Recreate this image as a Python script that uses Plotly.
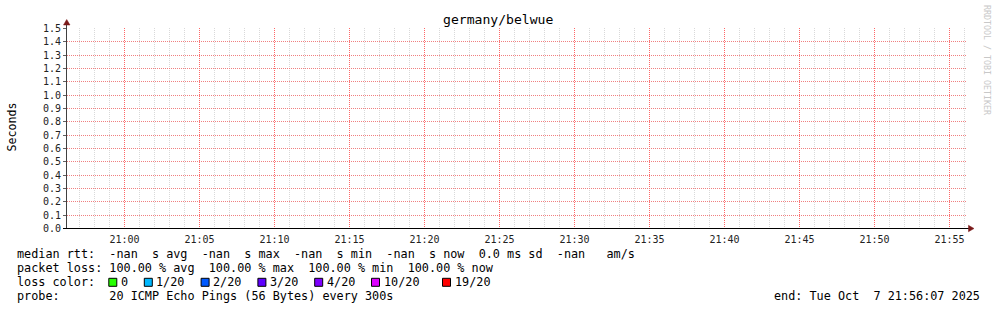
import plotly.graph_objects as go
import pandas as pd

# ---------------- data ----------------
title = "germany/belwue"
y_label = "Seconds"
time_start = "2025-10-07 20:56:10"
time_end = "2025-10-07 21:56:10"
sample_times = ["2025-10-07 21:00:00", "2025-10-07 21:05:00", "2025-10-07 21:10:00",
                "2025-10-07 21:15:00", "2025-10-07 21:20:00", "2025-10-07 21:25:00",
                "2025-10-07 21:30:00", "2025-10-07 21:35:00", "2025-10-07 21:40:00",
                "2025-10-07 21:45:00", "2025-10-07 21:50:00", "2025-10-07 21:55:00"]
median_rtt = [None] * 12  # all -nan
y_range = [-0.00375, 1.50375]   # 0 .. 1.5 with half-pixel padding
y_step = 0.1

median_line = "median rtt:  -nan  s avg  -nan  s max  -nan  s min  -nan  s now  0.0 ms sd  -nan   am/s"
loss_line = "packet loss: 100.00 % avg  100.00 % max  100.00 % min  100.00 % now"
loss_color_title = "loss color:"
loss_labels = ["0", "1/20", "2/20", "3/20", "4/20", "10/20", "19/20"]
loss_colors = ["#26ff00", "#00b8ff", "#0059ff", "#5e00ff", "#7e00ff", "#dd00ff", "#ff0000"]
probe_line = "probe:       20 ICMP Echo Pings (56 Bytes) every 300s"
end_line = "end: Tue Oct  7 21:56:07 2025"
watermark = "RRDTOOL / TOBI OETIKER"

# ---------------- layout helpers ----------------
W, H = 997, 310
L, R, T, B = 67, 30, 28, 81
PW, PH = W - L - R, H - T - B
MONO = "DejaVu Sans Mono"
CW = 7.1  # char width of legend font
LEG_FS = 11.8


def px(x):
    return (x - L) / PW


def py(y):
    return (H - B - y) / PH


def nb(s):
    return s.replace(" ", "\u00a0")


# minor (1-minute) grid positions, excluding the 5-minute major ones
minutes = pd.date_range(pd.Timestamp(time_start).ceil("min"), pd.Timestamp(time_end), freq="1min")
minor_vals = [t.strftime("%Y-%m-%d %H:%M:%S") for t in minutes if t.minute % 5 != 0]

fig = go.Figure()
fig.add_trace(go.Scatter(x=sample_times, y=median_rtt, mode="lines",
                         line=dict(color="#00ff00", width=1), showlegend=False))

annotations = []
shapes = []

# title
annotations.append(dict(x=px(498), y=py(20), xref="paper", yref="paper", text=title,
                        showarrow=False, xanchor="center", yanchor="middle",
                        font=dict(family=MONO, size=13.1, color="#000000")))
# y label
annotations.append(dict(x=px(11), y=py(127.5), xref="paper", yref="paper", text=y_label,
                        showarrow=False, textangle=-90, xanchor="center", yanchor="middle",
                        font=dict(family=MONO, size=11.6, color="#000000")))
# watermark
annotations.append(dict(x=px(987), y=py(60), xref="paper", yref="paper", text=nb(watermark),
                        showarrow=False, textangle=90, xanchor="center", yanchor="middle",
                        font=dict(family=MONO, size=8.3, color="#c8c8c8")))

x0 = 16
rows_y = [254.3, 268.3, 282.3, 296.3]
for txt, yy in [(median_line, rows_y[0]), (loss_line, rows_y[1]),
                (loss_color_title, rows_y[2]), (probe_line, rows_y[3])]:
    annotations.append(dict(x=px(x0 - 1.5), y=py(yy), xref="paper", yref="paper", text=nb(txt),
                            showarrow=False, xanchor="left", yanchor="middle",
                            font=dict(family=MONO, size=LEG_FS, color="#000000")))
annotations.append(dict(x=px(982), y=py(rows_y[3]), xref="paper", yref="paper", text=nb(end_line),
                        showarrow=False, xanchor="right", yanchor="middle",
                        font=dict(family=MONO, size=LEG_FS, color="#000000")))

# loss colour legend
col = 13
for i, (lab, c) in enumerate(zip(loss_labels, loss_colors)):
    sx = x0 + col * CW + 0.5
    shapes.append(dict(type="rect", xref="paper", yref="paper",
                       x0=px(sx), x1=px(sx + 8), y0=py(rows_y[2] + 4), y1=py(rows_y[2] - 4),
                       fillcolor=c, line=dict(color="#000000", width=1)))
    annotations.append(dict(x=px(x0 + (col + 1.5) * CW), y=py(rows_y[2]), xref="paper", yref="paper",
                            text=nb(lab), showarrow=False, xanchor="left", yanchor="middle",
                            font=dict(family=MONO, size=LEG_FS, color="#000000")))
    gap = 3 if lab == "10/20" else 2
    col += 2 + len(lab) + gap

# axis lines and arrows
shapes.append(dict(type="line", xref="paper", yref="paper", x0=px(66.5), x1=px(66.5), y0=py(228.5), y1=py(21),
                   line=dict(color="#404040", width=1)))
shapes.append(dict(type="line", xref="paper", yref="paper", x0=px(63), x1=px(970), y0=py(228.5), y1=py(228.5),
                   line=dict(color="#000000", width=1)))
shapes.append(dict(type="path", xref="paper", yref="paper",
                   path=f"M {px(63.5)} {py(25)} L {px(70)} {py(25)} L {px(66.7)} {py(19.5)} Z",
                   fillcolor="#7a1a1a", line=dict(color="#7a1a1a", width=0.5)))
shapes.append(dict(type="path", xref="paper", yref="paper",
                   path=f"M {px(968.5)} {py(225.3)} L {px(968.5)} {py(231.7)} L {px(974)} {py(228.5)} Z",
                   fillcolor="#7a1a1a", line=dict(color="#7a1a1a", width=0.5)))

fig.update_layout(
    width=W, height=H,
    margin=dict(l=L, r=R, t=T, b=B, pad=0),
    paper_bgcolor="#ffffff", plot_bgcolor="#ffffff",
    showlegend=False,
    annotations=annotations, shapes=shapes,
    xaxis=dict(type="date", range=[time_start, time_end], tick0="2025-10-07 21:00:00",
               dtick=300000, tickformat="%H:%M", showline=False, zeroline=False,
               ticks="outside", ticklen=1, tickcolor="rgba(0,0,0,0)",
               tickfont=dict(family=MONO, size=10, color="#222222"),
               showgrid=True, gridcolor="#ff6666", griddash="1px,1px", gridwidth=1,
               minor=dict(tickmode="array", tickvals=minor_vals, showgrid=True,
                          gridcolor="#d9d9d9", griddash="1px,1px", gridwidth=1),
               automargin=False),
    yaxis=dict(range=y_range, dtick=y_step, tick0=0, tickformat=".1f",
               showline=False, zeroline=False, automargin=False,
               ticks="outside", ticklen=3, tickcolor="#606060",
               tickfont=dict(family=MONO, size=10, color="#222222"),
               showgrid=True, gridcolor="#f08080", griddash="1px,1px", gridwidth=1),
)

fig.write_html("out.html")
